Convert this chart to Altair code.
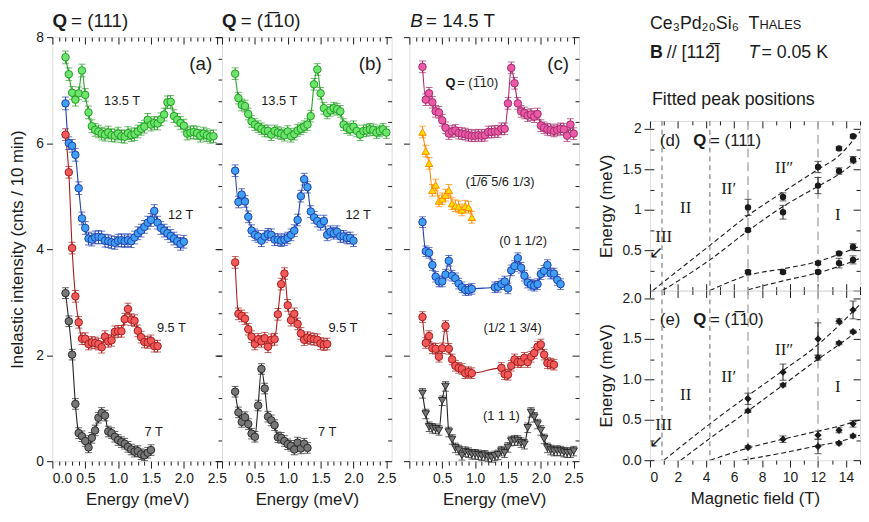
import altair as alt
import pandas as pd

FN = "Liberation Sans Narrow, Arial Narrow, Liberation Sans, Arial, sans-serif"
FSER = "Liberation Serif, Times New Roman, serif"
INK = "#1a1a1a"


def egrid(start, n):
    return [round(start + 0.05 * i, 2) for i in range(n)]


# ---------------- panel (a): Q = (111) ----------------
A_135 = [7.62, 7.30, 6.95, 6.82, 6.94, 7.37, 6.91, 6.58, 6.32, 6.25,
         6.22, 6.18, 6.16, 6.20, 6.15, 6.14, 6.18, 6.13, 6.12, 6.19,
         6.15, 6.17, 6.22, 6.27, 6.31, 6.44, 6.35, 6.38, 6.37, 6.45,
         6.54, 6.77, 6.78, 6.51, 6.44, 6.38, 6.33, 6.18, 6.20, 6.21,
         6.19, 6.14, 6.18, 6.15, 6.12, 6.13]
A_12 = [6.75, 6.00, 5.95, 5.78, 5.15, 4.58, 4.40, 4.20, 4.18, 4.22,
        4.23, 4.22, 4.16, 4.15, 4.13, 4.12, 4.16, 4.17, 4.15, 4.17,
        4.15, 4.22, 4.30, 4.35, 4.42, 4.50, 4.55, 4.72, 4.50, 4.40,
        4.35, 4.30, 4.25, 4.20, 4.15, 4.10, 4.14]
A_95 = [6.16, 5.45, 4.02, 3.11, 2.62, 2.31, 2.31, 2.21, 2.24, 2.23,
        2.21, 2.15, 2.35, 2.26, 2.28, 2.44, 2.45, 2.45, 2.68, 2.87,
        2.67, 2.65, 2.46, 2.34, 2.25, 2.24, 2.27, 2.17, 2.17]
A_7 = [3.17, 2.64, 2.01, 1.08, 0.53, 0.47, 0.38, 0.26, 0.44, 0.58,
       0.82, 0.91, 0.86, 0.56, 0.53, 0.46, 0.40, 0.36, 0.33, 0.27,
       0.22, 0.18, 0.19, 0.13, 0.11, 0.16, 0.21]

# ---------------- panel (b): Q = (-110) ----------------
B_135 = [7.31, 6.85, 6.72, 6.70, 6.55, 6.41, 6.35, 6.31, 6.27, 6.23,
         6.23, 6.16, 6.23, 6.20, 6.18, 6.15, 6.22, 6.13, 6.17, 6.24,
         6.27, 6.31, 6.35, 6.51, 7.11, 7.39, 6.94, 6.66, 6.57, 6.62,
         6.66, 6.64, 6.60, 6.35, 6.29, 6.26, 6.31, 6.23, 6.16, 6.23,
         6.24, 6.26, 6.25, 6.20, 6.23, 6.26, 6.20]
B_12 = [5.48, 4.89, 5.03, 4.90, 4.61, 4.35, 4.27, 4.24, 4.16, 4.24,
        4.28, 4.27, 4.18, 4.18, 4.16, 4.18, 4.21, 4.27, 4.35, 4.55,
        5.00, 5.32, 5.17, 4.71, 4.60, 4.53, 4.47, 4.53, 4.27, 4.33,
        4.30, 4.33, 4.24, 4.24, 4.21, 4.21, 4.16]
B_95 = [3.75, 2.78, 2.74, 2.69, 2.49, 2.35, 2.21, 2.30, 2.26, 2.32,
        2.16, 2.29, 2.30, 2.77, 3.34, 3.54, 2.94, 2.66, 2.78, 2.59,
        2.41, 2.29, 2.33, 2.31, 2.30, 2.29, 2.22, 2.20, 2.21]
B_7 = [1.31, 0.92, 0.74, 0.83, 0.70, 0.52, 0.46, 1.05, 1.74, 1.37,
       0.84, 0.77, 0.68, 0.45, 0.44, 0.38, 0.32, 0.29, 0.22, 0.35,
       0.24, 0.33, 0.25]

# ---------------- panel (c): B = 14.5 T ----------------
C_M = [7.44, 6.82, 6.94, 6.77, 6.60, 6.58, 6.43, 6.29, 6.18, 6.22,
       6.24, 6.19, 6.18, 6.17, 6.15, 6.14, 6.14, 6.15, 6.14, 6.15,
       6.21, 6.21, 6.22, 6.22, 6.27, 6.27, 6.75, 7.42, 7.13, 6.75,
       6.60, 6.57, 6.52, 6.54, 6.50, 6.55, 6.33, 6.29, 6.26, 6.25,
       6.23, 6.25, 6.27, 6.26, 6.14, 6.35, 6.18]
C_O = [6.21, 5.85, 5.62, 5.11, 5.21, 4.91, 4.95, 5.02, 5.11, 4.86,
       4.82, 4.80, 4.74, 4.81, 4.79, 4.60]
C_B_LOW = [4.51, 3.96, 3.93, 3.70, 3.48, 3.39, 3.39, 3.52, 3.78, 3.50,
           3.45, 3.35, 3.28, 3.23, 3.23, 3.25]
C_B_HIGH = [3.28, 3.29, 3.34, 3.39, 3.26, 3.60, 3.68, 3.83, 3.65, 3.50,
            3.37, 3.33, 3.31, 3.34, 3.53, 3.59, 3.70, 3.54, 3.54, 3.42, 3.34]
C_R_LOW = [2.72, 2.23, 2.36, 2.13, 2.12, 1.97, 2.13, 2.55, 2.12, 1.92,
           1.80, 1.76, 1.74, 1.66, 1.68, 1.66]
C_R_HIGH = [1.76, 1.64, 1.63, 1.80, 1.92, 1.87, 1.87, 1.95, 1.87, 1.97,
            2.04, 2.16, 2.20, 2.01, 1.85, 1.84, 1.82]
C_K = [1.28, 0.89, 0.65, 0.62, 0.61, 0.58, 1.14, 1.41, 0.55, 0.41,
       0.25, 0.21, 0.11, 0.18, 0.16, 0.13, 0.13, 0.12, 0.10, 0.11,
       0.08, 0.07, 0.10, 0.12, 0.19, 0.16, 0.26, 0.38, 0.39, 0.39,
       0.35, 0.32, 0.63, 0.92, 0.83, 0.70, 0.58, 0.42, 0.25, 0.21,
       0.19, 0.20, 0.19, 0.17, 0.16, 0.16, 0.19]

# ---------------- fitted peak positions ----------------
FIELD = [7, 7, 7, 9.5, 9.5, 9.5, 12, 12, 12, 12,
         13.5, 13.5, 13.5, 13.5, 14.5, 14.5, 14.5, 14.5]
D_PEAK = [1.03, 0.75, 0.23, 1.16, 0.97, 0.23, 1.53, 1.30, 0.34, 0.23,
          1.76, 1.48, 0.46, 0.34, 1.91, 1.62, 0.54, 0.38]
D_ERR = [0.10, 0.02, 0.02, 0.05, 0.085, 0.02, 0.07, 0.10, 0.02, 0.02,
         0.02, 0.04, 0.02, 0.06, 0.02, 0.04, 0.04, 0.05]
E_PEAK = [0.76, 0.61, 0.16, 1.09, 0.93, 0.26, 1.50, 1.27, 0.31, 0.17,
          1.72, 1.45, 0.37, 0.21, 1.86, 1.59, 0.45, 0.30]
E_ERR = [0.07, 0.02, 0.02, 0.10, 0.02, 0.04, 0.20, 0.03, 0.05, 0.09,
         0.03, 0.02, 0.03, 0.02, 0.11, 0.02, 0.04, 0.02]

D_FITS = {
    "d1": ([0.2, 4.28, 7, 9.5, 12, 13.5, 15], [0, 0.56, 0.93, 1.22, 1.50, 1.67, 1.97]),
    "d2": ([0.9, 4.28, 7, 9.5, 12, 13.5, 15], [0, 0.38, 0.74, 1.04, 1.29, 1.44, 1.64]),
    "d3": ([4.28, 7, 9.5, 12, 13.5, 15], [0, 0.19, 0.27, 0.36, 0.45, 0.55]),
    "d4": ([7, 9.5, 12, 13.5, 15], [0.01, 0.12, 0.22, 0.30, 0.40]),
}
E_FITS = {
    "e1": ([1.0, 4.28, 7, 9.5, 12, 13.5, 15], [0, 0.45, 0.80, 1.11, 1.43, 1.67, 1.93]),
    "e2": ([2.2, 4.28, 7, 9.5, 12, 13.5, 15], [0, 0.27, 0.61, 0.93, 1.25, 1.43, 1.62]),
    "e3": ([4.3, 7, 9.5, 12, 13.5, 15], [0, 0.15, 0.26, 0.36, 0.42, 0.50]),
    "e4": ([6.6, 9.5, 12, 13.5, 15], [0, 0.09, 0.18, 0.23, 0.31]),
}
PHASE_LINES = [0.86, 4.28]
FIELD_LINES = [7, 12]

# ---------------- styles ----------------
STY = {
    "g": dict(fill="#6ee36e", stroke="#1e9e1e", line="#2ca02c", shape="circle"),
    "b": dict(fill="#3f9ff0", stroke="#1f3fae", line="#1f3fae", shape="circle"),
    "r": dict(fill="#f25a5a", stroke="#a51c1c", line="#a51c1c", shape="circle"),
    "k": dict(fill="#777777", stroke="#2b2b2b", line="#222222", shape="circle"),
    "m": dict(fill="#ea5aa6", stroke="#a62a6c", line="#a62a6c", shape="circle"),
    "o": dict(fill="#ffdd00", stroke="#ff8a00", line="#ff8a00", shape="triangle-up"),
    "kt": dict(fill="#777777", stroke="#2b2b2b", line="#222222", shape="triangle-down"),
}

W, H = 172, 430
XMAX = 2.58
XTICKS = [round(0.1 * i, 1) for i in range(26)]
YT_MAJ = [0, 2, 4, 6, 8]
YT_MIN = [round(0.4 * i, 1) for i in range(21)]
MAJX = "abs(datum.value*2 - round(datum.value*2)) < 0.01"
MAJY = "abs(datum.value/2 - round(datum.value/2)) < 0.01"
TICK_FS = 14
TITLE_FS = 17
LABEL_FS = 13


def frame(series):
    rows = []
    for key, sty, es, vals, err in series:
        for e, v in zip(es, vals):
            rows.append({"s": key, "E": e, "I": v, "lo": v - err, "hi": v + err})
    return pd.DataFrame(rows)


def txt_data(t, x, y, xs, ys, **kw):
    return alt.Chart(pd.DataFrame({"t": [t], "x": [x], "y": [y]})).mark_text(**kw).encode(
        x=alt.X("x:Q", scale=xs, axis=None), y=alt.Y("y:Q", scale=ys, axis=None), text="t:N")


def txt_px(t, px, py, **kw):
    return alt.Chart(pd.DataFrame({"t": [t]})).mark_text(**kw).encode(
        x=alt.value(px), y=alt.value(py), text="t:N")


def spacer(wd, ht):
    return alt.Chart(pd.DataFrame({"v": [0.0]})).mark_point(opacity=0).encode(
        x=alt.X("v:Q", axis=None), y=alt.Y("v:Q", axis=None)).properties(
        width=wd, height=ht, view=alt.ViewBackground(stroke="transparent"))


def abc_panel(series, labels, letter, head, first):
    df = frame(series)
    keys = [s[0] for s in series]
    xs = alt.Scale(domain=[0, XMAX], nice=False, zero=False)
    ys = alt.Scale(domain=[0, 8], nice=False, zero=False)
    tsz = {"condition": {"test": MAJX, "value": 7}, "value": 4}
    if first:
        lab = f"({MAJX}) ? format(datum.value, '.1f') : ''"
    else:
        lab = f"({MAJX}) && datum.value > 0.01 ? format(datum.value, '.1f') : ''"
    ax_bottom = alt.Axis(orient="bottom", values=XTICKS, domain=False, grid=False,
                         tickColor=INK, tickSize=tsz, labelExpr=lab, labelOverlap=False,
                         labelFont=FN, labelFontSize=TICK_FS, labelColor=INK, labelPadding=4,
                         title="Energy (meV)", titleFont=FN, titleFontSize=TITLE_FS,
                         titleFontWeight="normal", titleColor=INK, titlePadding=6)
    ax_top = alt.Axis(orient="bottom", offset=-H, values=XTICKS, domain=False, grid=False,
                      labels=False, tickColor=INK, tickSize=tsz, title=None)
    if first:
        ax_left = alt.Axis(orient="left", values=YT_MAJ, domain=False, grid=False,
                           tickColor=INK, tickSize=6, format="d", labelFont=FN,
                           labelFontSize=TICK_FS, labelColor=INK, labelPadding=3,
                           title="Inelastic intensity (cnts / 10 min)", titleFont=FN,
                           titleFontSize=TITLE_FS, titleFontWeight="normal", titleColor=INK,
                           titlePadding=9)
    else:
        ax_left = alt.Axis(orient="left", values=YT_MAJ, domain=False, grid=False,
                           tickColor=INK, tickSize=6, labels=False, title=None)
    ax_right = alt.Axis(orient="left", offset=-W, values=YT_MIN, domain=False, grid=False,
                        labels=False, tickColor=INK,
                        tickSize={"condition": {"test": MAJY, "value": 7}, "value": 4},
                        title=None)
    col = alt.Color("s:N", scale=alt.Scale(domain=keys, range=[STY[s[1]]["line"] for s in series]), legend=None)
    fill = alt.Fill("s:N", scale=alt.Scale(domain=keys, range=[STY[s[1]]["fill"] for s in series]), legend=None)
    stroke = alt.Stroke("s:N", scale=alt.Scale(domain=keys, range=[STY[s[1]]["stroke"] for s in series]), legend=None)
    shape = alt.Shape("s:N", scale=alt.Scale(domain=keys, range=[STY[s[1]]["shape"] for s in series]), legend=None)

    base = alt.Chart(df)
    line = base.mark_line(interpolate="monotone", strokeWidth=1.1).encode(
        x=alt.X("E:Q", scale=xs, axis=ax_bottom), y=alt.Y("I:Q", scale=ys, axis=ax_left),
        color=col, detail="s:N")
    errs = base.mark_rule(strokeWidth=1).encode(
        x=alt.X("E:Q", scale=xs, axis=ax_top), y=alt.Y("lo:Q", scale=ys, axis=ax_right),
        y2="hi:Q", color=col)
    cap_lo = base.mark_tick(orient="horizontal", size=7, thickness=1).encode(
        x=alt.X("E:Q", scale=xs, axis=None), y=alt.Y("lo:Q", scale=ys, axis=None), color=col)
    cap_hi = base.mark_tick(orient="horizontal", size=7, thickness=1).encode(
        x=alt.X("E:Q", scale=xs, axis=None), y=alt.Y("hi:Q", scale=ys, axis=None), color=col)
    pts = base.mark_point(filled=True, size=58, strokeWidth=1, opacity=1).encode(
        x=alt.X("E:Q", scale=xs, axis=None), y=alt.Y("I:Q", scale=ys, axis=None),
        fill=fill, stroke=stroke, shape=shape)
    layers = [line, errs, cap_lo, cap_hi, pts]
    for t, x, y, kw in labels:
        props = dict(font=FN, fontSize=LABEL_FS, color=INK, align="center", baseline="middle")
        props.update(kw)
        layers.append(txt_data(t, x, y, xs, ys, **props))
    layers.append(txt_px(letter, W - 10, 27, font=FN, fontSize=19, color=INK,
                         align="right", baseline="middle"))
    for t, px, kw in head:
        props = dict(font=FN, fontSize=19, color=INK, align="left", baseline="alphabetic")
        props.update(kw)
        layers.append(txt_px(t, px, -10, **props))
    return alt.layer(*layers).resolve_axis(x="independent", y="independent").properties(width=W, height=H)


pa = abc_panel(
    [("a135", "g", egrid(0.2, len(A_135)), A_135, 0.12),
     ("a12", "b", egrid(0.2, len(A_12)), A_12, 0.12),
     ("a95", "r", egrid(0.2, len(A_95)), A_95, 0.11),
     ("a7", "k", egrid(0.2, len(A_7)), A_7, 0.10)],
    [("13.5 T", 1.06, 6.79, {}), ("12 T", 1.95, 4.65, {}),
     ("9.5 T", 1.81, 2.52, {}), ("7 T", 1.54, 0.55, {})],
    "(a)", [("Q", 0, {"fontWeight": "bold"}), ("= (111)", 19, {})], True)

pb = abc_panel(
    [("b135", "g", egrid(0.2, len(B_135)), B_135, 0.11),
     ("b12", "b", egrid(0.2, len(B_12)), B_12, 0.11),
     ("b95", "r", egrid(0.2, len(B_95)), B_95, 0.11),
     ("b7", "k", egrid(0.2, len(B_7)), B_7, 0.10)],
    [("13.5 T", 0.87, 6.79, {}), ("12 T", 2.07, 4.65, {}),
     ("9.5 T", 1.84, 2.52, {}), ("7 T", 1.60, 0.55, {})],
    "(b)", [("Q", 0, {"fontWeight": "bold"}), ("= (1\u0305" + "10)", 19, {})], False)

pc = abc_panel(
    [("cm", "m", egrid(0.2, len(C_M)), C_M, 0.11),
     ("co", "o", egrid(0.2, len(C_O)), C_O, 0.11),
     ("cb", "b", egrid(0.2, len(C_B_LOW)) + egrid(1.3, len(C_B_HIGH)), C_B_LOW + C_B_HIGH, 0.10),
     ("cr", "r", egrid(0.2, len(C_R_LOW)) + egrid(1.4, len(C_R_HIGH)), C_R_LOW + C_R_HIGH, 0.10),
     ("ck", "kt", egrid(0.2, len(C_K)), C_K, 0.09)],
    [("Q", 0.55, 7.13, {"fontWeight": "bold", "align": "left"}),
     ("= (1\u0305" + "10)", 0.73, 7.13, {"align": "left"}),
     ("(1\u0305/\u03056\u0305 5/6 1/3)", 1.38, 5.27, {}),
     ("(0 1 1/2)", 1.73, 4.15, {}),
     ("(1/2 1 3/4)", 1.57, 2.52, {}),
     ("(1 1 1)", 1.40, 0.86, {})],
    "(c)", [("B", 1, {"fontStyle": "italic"}), ("= 14.5 T", 17, {})], False)

# ---------------- panels (d), (e) ----------------
WR, HR = 213, 172
XT2 = list(range(16))
YT2_MAJ_D = [0.5, 1, 1.5, 2]
YT2_MAJ_E = [0, 0.5, 1, 1.5, 2]
YT2_MIN = [round(0.25 * i, 2) for i in range(9)]
MAJ2 = "datum.value % 2 == 0"
MAJH = "abs(datum.value*2 - round(datum.value*2)) < 0.01"


def fit_panel(peaks, errs, shape, size, fits, tag, qtxt, bottom_labels, head):
    xs = alt.Scale(domain=[0, 15], nice=False, zero=False)
    ys = alt.Scale(domain=[0, 2.1], nice=False, zero=False)
    tsz = {"condition": {"test": MAJ2, "value": 7}, "value": 4}
    if bottom_labels:
        ax_x1 = alt.Axis(orient="bottom", values=XT2, domain=False, grid=False, tickColor=INK,
                         tickSize=tsz, labelExpr=f"({MAJ2}) ? toString(datum.value) : ''",
                         labelOverlap=False, labelFont=FN, labelFontSize=TICK_FS, labelColor=INK,
                         labelPadding=4, title="Magnetic field (T)", titleFont=FN,
                         titleFontSize=TITLE_FS, titleFontWeight="normal", titleColor=INK,
                         titlePadding=6)
    else:
        ax_x1 = alt.Axis(orient="top", offset=-HR, values=XT2, domain=False, grid=False,
                         labels=False, tickColor=INK, tickSize=tsz, title=None)
    ax_x2 = alt.Axis(orient="bottom", offset=-HR, values=XT2, domain=False, grid=False,
                     labels=False, tickColor=INK, tickSize=tsz, title=None)
    if bottom_labels:
        ax_y1 = alt.Axis(orient="left", values=YT2_MAJ_E, domain=False, grid=False,
                         tickColor=INK, tickSize=6, format=".1f", labelFont=FN,
                         labelFontSize=TICK_FS, labelColor=INK, labelPadding=3,
                         title="Energy (meV)", titleFont=FN, titleFontSize=TITLE_FS,
                         titleFontWeight="normal", titleColor=INK, titlePadding=7)
    else:
        ax_y1 = alt.Axis(orient="left", values=YT2_MAJ_D, domain=False, grid=False,
                         tickColor=INK, tickSize=6, labelExpr="toString(datum.value)",
                         labelFont=FN, labelFontSize=TICK_FS, labelColor=INK, labelPadding=3,
                         title="Energy (meV)", titleFont=FN, titleFontSize=TITLE_FS,
                         titleFontWeight="normal", titleColor=INK, titlePadding=7)
    ax_y2 = alt.Axis(orient="right", offset=-WR, values=YT2_MIN, domain=False, grid=False,
                     labels=False, tickColor=INK, tickSize=4, title=None)
    ax_y3 = alt.Axis(orient="left", offset=-WR, values=YT2_MIN, domain=False, grid=False,
                     labels=False, tickColor=INK,
                     tickSize={"condition": {"test": MAJH, "value": 7}, "value": 4}, title=None)

    pdf = pd.DataFrame({"B": FIELD, "E": peaks, "lo": [p - e for p, e in zip(peaks, errs)],
                        "hi": [p + e for p, e in zip(peaks, errs)]})
    frows = []
    for k, (bx, by) in fits.items():
        for x, y in zip(bx, by):
            frows.append({"k": k, "B": x, "E": y})
    fdf = pd.DataFrame(frows)

    ph = alt.Chart(pd.DataFrame({"b": PHASE_LINES})).mark_rule(
        strokeDash=[5, 4], strokeWidth=0.9, color="#555555").encode(
        x=alt.X("b:Q", scale=xs, axis=None), y=alt.value(0), y2=alt.value(HR))
    fl = alt.Chart(pd.DataFrame({"b": FIELD_LINES})).mark_rule(
        strokeDash=[9, 5], strokeWidth=1.6, color="#b4b4b4").encode(
        x=alt.X("b:Q", scale=xs, axis=None), y=alt.value(0), y2=alt.value(HR))
    fit = alt.Chart(fdf).mark_line(strokeDash=[5, 3], strokeWidth=1.1, color=INK,
                                   interpolate="monotone", clip=True).encode(
        x=alt.X("B:Q", scale=xs, axis=ax_x1), y=alt.Y("E:Q", scale=ys, axis=ax_y1), detail="k:N")
    eb = alt.Chart(pdf).mark_rule(color=INK, strokeWidth=1).encode(
        x=alt.X("B:Q", scale=xs, axis=ax_x2), y=alt.Y("lo:Q", scale=ys, axis=ax_y2), y2="hi:Q")
    c1 = alt.Chart(pdf).mark_tick(orient="horizontal", size=7, thickness=1, color=INK).encode(
        x=alt.X("B:Q", scale=xs, axis=None), y=alt.Y("lo:Q", scale=ys, axis=ax_y3))
    c2 = alt.Chart(pdf).mark_tick(orient="horizontal", size=7, thickness=1, color=INK).encode(
        x=alt.X("B:Q", scale=xs, axis=None), y=alt.Y("hi:Q", scale=ys, axis=None))
    pts = alt.Chart(pdf).mark_point(filled=True, shape=shape, size=size, color=INK, opacity=1).encode(
        x=alt.X("B:Q", scale=xs, axis=None), y=alt.Y("E:Q", scale=ys, axis=None))
    layers = [fit, ph, fl, eb, c1, c2, pts]
    for t, x, y, in tag:
        layers.append(txt_data(t, x, y, xs, ys, font=FSER, fontSize=17, color=INK,
                               align="center", baseline="middle"))
    qy = qtxt[3]
    layers.append(txt_px(qtxt[0], 10, qy, font=FN, fontSize=17, color=INK, align="left", baseline="middle"))
    layers.append(txt_px("Q", 44, qy, font=FN, fontSize=17, fontWeight="bold", color=INK,
                         align="left", baseline="middle"))
    layers.append(txt_px(qtxt[1], 61, qy, font=FN, fontSize=17, color=INK, align="left", baseline="middle"))
    for t, px, py, kw in head:
        props = dict(font=FN, fontSize=18, color=INK, align="left", baseline="alphabetic")
        props.update(kw)
        layers.append(txt_px(t, px, py, **props))
    return alt.layer(*layers).resolve_axis(x="independent", y="independent").properties(width=WR, height=HR)


pd_ = fit_panel(D_PEAK, D_ERR, "circle", 42, D_FITS,
                [("III", 0.98, 0.66), ("\u2199", 0.45, 0.46), ("II", 2.55, 1.02),
                 ("II\u2032", 5.62, 1.26), ("II\u2033", 9.58, 1.52), ("I", 13.42, 0.94)],
                ("(d)", "= (111)", None, 20), False,
                [("Ce\u2083Pd\u2082\u2080Si\u2086", 0, -93, {}),
                 ("T", 100, -93, {}), ("HALES", 111, -93, {"fontSize": 13}),
                 ("B", 0, -64, {"fontWeight": "bold"}), ("// [112\u0305]", 17, -64, {}),
                 ("T", 100, -64, {"fontStyle": "italic"}), ("= 0.05 K", 113, -64, {}),
                 ("Fitted peak positions", 2, -16, {})])

pe_ = fit_panel(E_PEAK, E_ERR, "diamond", 55, E_FITS,
                [("III", 0.98, 0.43), ("\u2199", 0.45, 0.23), ("II", 2.55, 0.80),
                 ("II\u2032", 5.62, 1.03), ("II\u2033", 9.58, 1.36), ("I", 13.42, 0.91)],
                ("(e)", "= (1\u0305" + "10)", None, 30), True, [])

left_group = alt.hconcat(pa, pb, spacer(18, H), pc, spacing=0, bounds="flush").resolve_scale(
    color="independent", fill="independent", stroke="independent", shape="independent")
right_group = alt.vconcat(spacer(WR, 85), pd_, pe_, spacing=0, bounds="flush")

chart = alt.hconcat(left_group, right_group, spacing=13).properties(
    padding={"left": 0, "top": 0, "right": 0, "bottom": 0}
).configure_view(stroke=INK, strokeWidth=1).configure(background="white")

chart.save("out.html", embed_options={"renderer": "svg", "actions": False})
